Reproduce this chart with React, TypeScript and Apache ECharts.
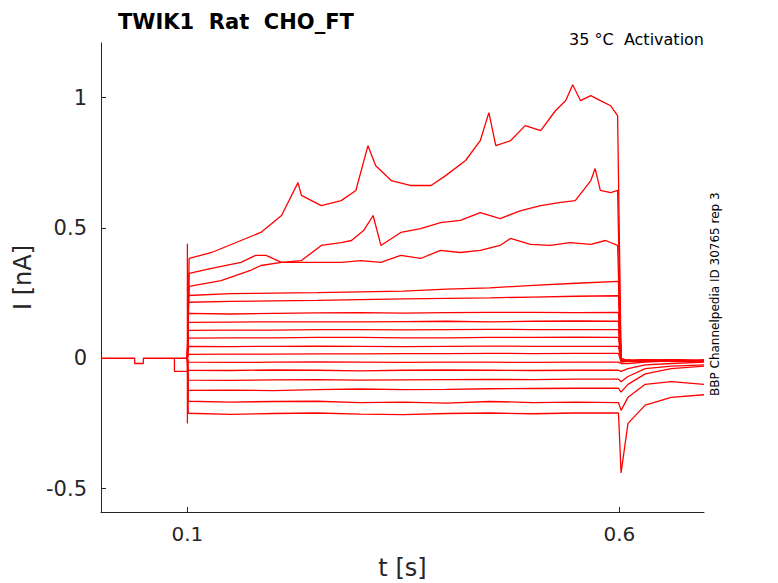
import { useEffect, useRef } from 'react';
import * as echarts from 'echarts';

// time grid (s) for the flat steps and the tails
const STEP_T = [0.101, 0.15, 0.2, 0.25, 0.3, 0.35, 0.4, 0.45, 0.5, 0.55, 0.599];
const TAIL_T = [0.602, 0.61, 0.63, 0.66, 0.698];

// three rising traces, [t, I]
const trace1: number[][] = [
  [0.102, 0.383], [0.128, 0.406], [0.162, 0.452], [0.185, 0.483], [0.209, 0.548], [0.228, 0.674],
  [0.232, 0.625], [0.255, 0.586], [0.278, 0.605], [0.295, 0.644], [0.309, 0.816], [0.318, 0.739],
  [0.336, 0.682], [0.359, 0.663], [0.382, 0.663], [0.399, 0.701], [0.422, 0.759], [0.439, 0.835],
  [0.449, 0.943], [0.457, 0.816], [0.474, 0.835], [0.491, 0.893], [0.509, 0.874], [0.526, 0.95],
  [0.538, 0.989], [0.546, 1.05], [0.555, 0.989], [0.567, 1.008], [0.578, 0.989], [0.59, 0.969], [0.598, 0.931],
];
const trace2: number[][] = [
  [0.102, 0.326], [0.128, 0.345], [0.162, 0.368], [0.179, 0.395], [0.191, 0.395], [0.209, 0.368],
  [0.232, 0.375], [0.255, 0.433], [0.278, 0.444], [0.29, 0.452], [0.304, 0.49], [0.315, 0.548],
  [0.324, 0.433], [0.347, 0.483], [0.37, 0.498], [0.393, 0.521], [0.416, 0.529], [0.439, 0.559],
  [0.462, 0.536], [0.486, 0.567], [0.509, 0.586], [0.532, 0.598], [0.549, 0.605], [0.567, 0.682],
  [0.572, 0.728], [0.578, 0.644], [0.59, 0.636], [0.598, 0.644],
];
const trace3: number[][] = [
  [0.102, 0.276], [0.139, 0.298], [0.173, 0.337], [0.185, 0.356], [0.209, 0.368], [0.232, 0.368],
  [0.255, 0.368], [0.278, 0.368], [0.301, 0.375], [0.324, 0.368], [0.347, 0.395], [0.37, 0.383],
  [0.393, 0.414], [0.416, 0.406], [0.439, 0.414], [0.462, 0.433], [0.474, 0.46], [0.497, 0.437],
  [0.52, 0.433], [0.543, 0.444], [0.567, 0.437], [0.584, 0.452], [0.598, 0.433],
];
const rising = [trace1, trace2, trace3];
const risingTail = [
  [0.0, -0.01, -0.01, -0.005, -0.01],
  [0.0, -0.01, -0.005, -0.01, -0.01],
  [-0.01, -0.01, -0.01, -0.005, -0.01],
];

// flat traces: level at each STEP_T (nA)
const flatLevels = [
  [0.241, 0.248, 0.25, 0.252, 0.255, 0.258, 0.265, 0.27, 0.28, 0.288, 0.295],
  [0.215, 0.218, 0.22, 0.222, 0.225, 0.228, 0.23, 0.232, 0.235, 0.238, 0.24],
  [0.172, 0.17, 0.172, 0.174, 0.175, 0.173, 0.175, 0.176, 0.176, 0.175, 0.176],
  [0.138, 0.139, 0.14, 0.14, 0.14, 0.141, 0.142, 0.14, 0.142, 0.143, 0.142],
  [0.107, 0.108, 0.108, 0.11, 0.11, 0.109, 0.11, 0.111, 0.11, 0.11, 0.11],
  [0.077, 0.078, 0.078, 0.08, 0.08, 0.078, 0.078, 0.08, 0.08, 0.081, 0.08],
  [0.046, 0.045, 0.046, 0.047, 0.046, 0.045, 0.046, 0.047, 0.046, 0.046, 0.046],
  [0.015, 0.016, 0.016, 0.017, 0.017, 0.018, 0.018, 0.019, 0.018, 0.019, 0.019],
  [-0.015, -0.016, -0.015, -0.014, -0.015, -0.016, -0.015, -0.015, -0.016, -0.015, -0.015],
  [-0.046, -0.047, -0.045, -0.046, -0.048, -0.046, -0.045, -0.046, -0.047, -0.046, -0.046],
  [-0.084, -0.085, -0.083, -0.082, -0.084, -0.083, -0.082, -0.081, -0.082, -0.08, -0.08],
  [-0.123, -0.122, -0.124, -0.12, -0.118, -0.12, -0.119, -0.117, -0.116, -0.115, -0.115],
  [-0.165, -0.168, -0.166, -0.165, -0.17, -0.168, -0.172, -0.166, -0.17, -0.168, -0.17],
  [-0.211, -0.215, -0.212, -0.21, -0.214, -0.216, -0.212, -0.21, -0.213, -0.21, -0.21],
];
const flatTail = [
  [-0.01, -0.005, -0.01, -0.01, -0.01],
  [-0.01, -0.01, -0.005, -0.01, -0.01],
  [-0.01, -0.01, -0.01, -0.01, -0.005],
  [-0.01, -0.01, -0.01, -0.005, -0.01],
  [-0.01, -0.01, -0.005, -0.01, -0.01],
  [-0.01, -0.01, -0.01, -0.01, -0.01],
  [-0.01, -0.01, -0.01, -0.01, -0.01],
  [-0.015, -0.01, -0.01, -0.01, -0.01],
  [-0.02, -0.02, -0.015, -0.01, -0.01],
  [-0.05, -0.04, -0.025, -0.02, -0.015],
  [-0.09, -0.07, -0.04, -0.03, -0.025],
  [-0.13, -0.1, -0.06, -0.04, -0.03],
  [-0.2, -0.15, -0.1, -0.09, -0.1],
  [-0.44, -0.25, -0.18, -0.15, -0.14],
];

// holding segment before the step
const baseline: number[][] = [
  [0.0, 0.0], [0.039, 0.0], [0.039, -0.02], [0.049, -0.02], [0.049, 0.0], [0.1, 0.0],
];
const preDip: number[][] = [[0.085, 0.0], [0.085, -0.05], [0.1, -0.05]];
const stepSpike: number[][] = [[0.1, 0.44], [0.1, -0.25]];

function buildSeries() {
  const lines: number[][][] = [];
  rising.forEach((tr, i) => {
    lines.push([[0.1, 0], ...tr, ...TAIL_T.map((t, j) => [t, risingTail[i][j]])]);
  });
  flatLevels.forEach((lv, i) => {
    lines.push([
      [0.1, 0],
      ...STEP_T.map((t, j) => [t, lv[j]]),
      ...TAIL_T.map((t, j) => [t, flatTail[i][j]]),
    ]);
  });
  lines.push(baseline, preDip, stepSpike);
  return lines.map((d) => ({
    type: 'line',
    data: d,
    showSymbol: false,
    symbol: 'none',
    lineStyle: { color: '#ff0000', width: 1.3 },
  }));
}

export default function App() {
  const chartRef = useRef<HTMLDivElement>(null);

  useEffect(() => {
    if (!chartRef.current) return;
    const chart = echarts.init(chartRef.current, null, { renderer: 'svg' });
    const font = "'DejaVu Sans', sans-serif";
    chart.setOption({
      animation: false,
      grid: { left: 101, right: 74, top: 43, bottom: 71, containLabel: false, outerBoundsMode: 'none' },
      title: {
        text: 'TWIK1  Rat  CHO_FT',
        left: 113,
        top: 6,
        textStyle: { fontSize: 21, fontWeight: 'bold', color: '#000', fontFamily: font },
      },
      graphic: [
        {
          type: 'text',
          right: 74,
          top: 31,
          style: { text: '35 °C  Activation', fill: '#000', font: `16px ${font}` },
        },
        {
          type: 'text',
          x: 709,
          y: 396,
          rotation: Math.PI / 2,
          style: { text: 'BBP Channelpedia ID 30765 rep 3', fill: '#000', font: `12px ${font}` },
        },
      ],
      xAxis: {
        type: 'value',
        min: 0,
        max: 0.698,
        name: 't [s]',
        nameLocation: 'middle',
        nameGap: 44,
        nameTextStyle: { fontSize: 24, color: '#262626', fontFamily: font },
        axisLine: { onZero: false, lineStyle: { color: '#262626' } },
        axisTick: { inside: true, length: 5, customValues: [0.1, 0.6], lineStyle: { color: '#262626' } },
        axisLabel: { customValues: [0.1, 0.6], fontSize: 20, color: '#262626', fontFamily: font, margin: 12 },
        splitLine: { show: false },
      },
      yAxis: {
        type: 'value',
        min: -0.59,
        max: 1.21,
        name: 'I [nA]',
        nameLocation: 'middle',
        nameGap: 46,
        nameTextStyle: { fontSize: 24, color: '#262626', fontFamily: font },
        axisLine: { show: true, onZero: false, lineStyle: { color: '#262626' } },
        axisTick: { inside: true, length: 5, customValues: [-0.5, 0, 0.5, 1], lineStyle: { color: '#262626' } },
        axisLabel: { customValues: [-0.5, 0, 0.5, 1], fontSize: 21, color: '#262626', fontFamily: font, margin: 14 },
        splitLine: { show: false },
      },
      series: buildSeries(),
    });
    return () => chart.dispose();
  }, []);

  return (
    <div
      ref={chartRef}
      style={{ position: 'fixed', left: 0, top: 0, width: 778, height: 583, background: '#fff' }}
    />
  );
}
